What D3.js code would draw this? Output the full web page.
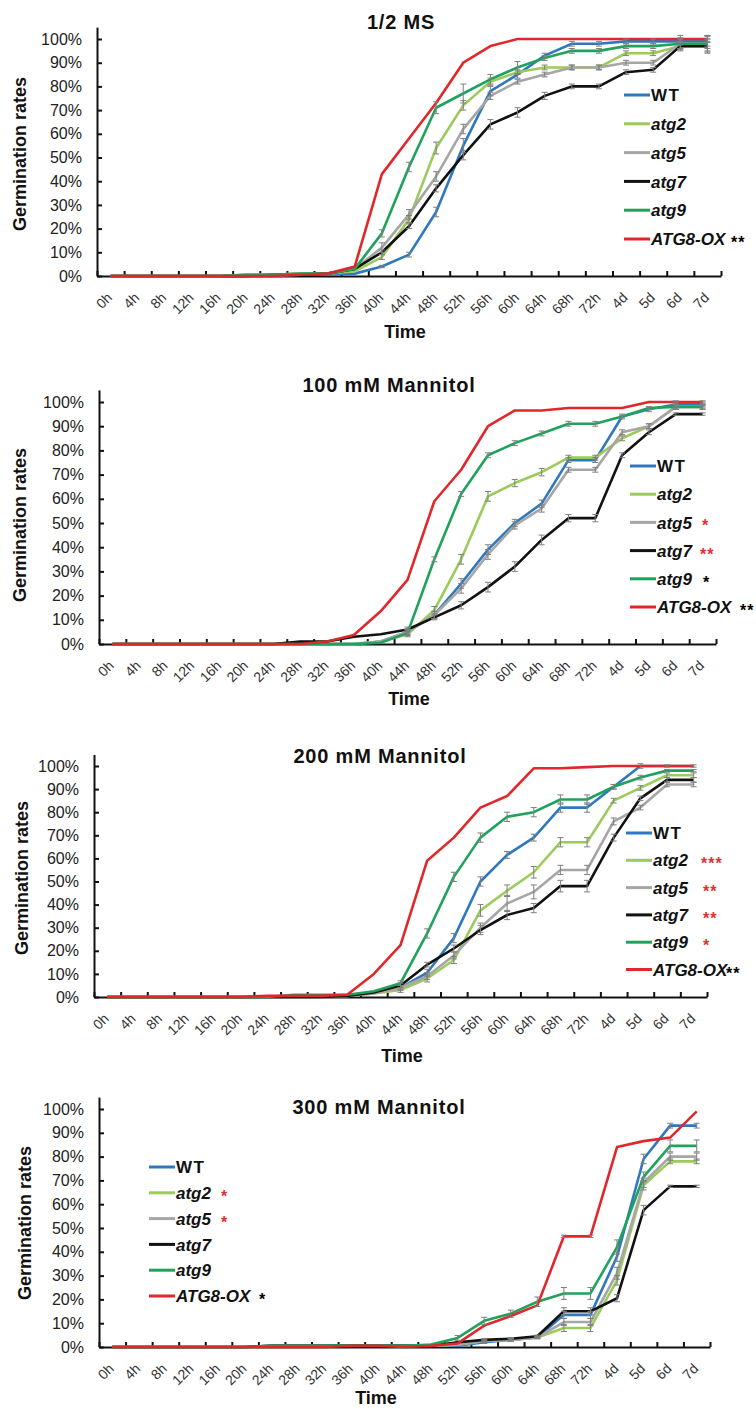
<!DOCTYPE html>
<html>
<head>
<meta charset="utf-8">
<script src="https://cdn.jsdelivr.net/npm/d3@7"></script>
<style>
  body { margin:0; background:#fff; }
  svg { font-family: "Liberation Sans", Arial, sans-serif; }
  .title { font-weight:bold; font-size:20px; letter-spacing:0.8px; fill:#111; }
  .axlabel { font-weight:bold; font-size:18px; fill:#111; }
  .yax text { font-size:16px; fill:#222; }
  .xax text { font-size:14px; fill:#333; }
  .leg { font-weight:bold; font-size:17px; fill:#111; }
</style>
</head>
<body>
<script>
var cats = ["0h","4h","8h","12h","16h","20h","24h","28h","32h","36h","40h","44h","48h","52h","56h","60h","64h","68h","72h","4d","5d","6d","7d"];
var seriesNames = ["WT","atg2","atg5","atg7","atg9","ATG8-OX"];
var seriesColors = ["#2f78bd","#9bcb5b","#a6a6a6","#111111","#1fa35c","#e2272b"];

//1/2 MS
var ms_WT   = [0,0,0,0,0,0,0,0.5,0.5,1,4,9,27,55,78,85,93,98,98,99,99,99,99];
var ms_atg2 = [0,0,0,0,0,0.5,0.5,1,1,2,8,24,54,72,82,86,88,88,88,94,94,97,97];
var ms_atg5 = [0,0,0,0,0,0.5,0.5,1,1,3,12,26,42,62,76,82,85,88,88,90,90,98,98];
var ms_atg7 = [0,0,0,0,0,0,0.5,0.5,1,3,10,21,37,51,64,69,76,80,80,86,87,97,97];
var ms_atg9 = [0,0,0,0,0,0.5,0.5,1,1,3,18,46,71,77,83,88,92,95,95,97,97,98,98];
var ms_OX   = [0,0,0,0,0,0,0,0.5,1,4,43,58,73,90,97,100,100,100,100,100,100,100,100];
var ms_WT_err   = [0,0,0,0,0,0,0,0,0,0,0.5,1,2,3,2,1.5,1,1,1,1,1,1.5,2];
var ms_atg2_err = [0,0,0,0,0,0,0,0,0,0,1,1.5,2.5,2,1.5,1,1,1,1,1,1,1.5,3];
var ms_atg5_err = [0,0,0,0,0,0,0,0,0,0,2,2,2,2,1.5,1,1,1,1,1,1,2,3.5];
var ms_atg7_err = [0,0,0,0,0,0,0,0,0,0,1,1,1.5,2,2,2,1.5,1,1,1,1,2,2];
var ms_atg9_err = [0,0,0,0,0,0,0,0,0,0,1.5,2,2.5,4,2,2.5,1,1,1,1,1,2,2];
var ms_OX_err   = [0,0,0,0,0,0,0,0,0,0,0,0,0,0,0,0,0,0,0,0,0,1.5,1.5];
var ms_stars = ["","","","","","**"];

//100 mM Mannitol
var m100_WT   = [0,0,0,0,0,0,0,0,0,0,1,5,12,25,39,50,58,76,76,94,97,99,99];
var m100_atg2 = [0,0,0,0,0,0,0,0,0,0,1,4,14,35,61,66.5,71,77,77,85,90,98,98];
var m100_atg5 = [0,0,0,0,0,0,0,0,0,0,1,5,12,23,37,49,56,72,72,87.5,90,98,98];
var m100_atg7 = [0,0,0,0,0,0,0,1,1,3,4,6,11,16,23.5,32,43,52,52,78,87.5,95,95];
var m100_atg9 = [0,0,0,0,0,0,0,0,0,0,0.5,4.5,35,62,78,83,87,91,91,94,97.5,98,98];
var m100_OX   = [0,0,0,0,0,0,0,0,1,3.7,13.5,26.5,59,72,90,96.5,96.5,97.5,97.5,97.5,100,100,100];
var m100_WT_err   = [0,0,0,0,0,0,0,0,0,0,0,1,1.5,2,2,1.5,1.5,1,1,1,1,1,1];
var m100_atg2_err = [0,0,0,0,0,0,0,0,0,0,0,1,1.5,2,2,1.5,1.5,1,1,1,1,1,1];
var m100_atg5_err = [0,0,0,0,0,0,0,0,0,0,0,1,1.5,2,2,1.5,1.5,1,1,1,1,1,1];
var m100_atg7_err = [0,0,0,0,0,0,0,0,0,0,0,1,1,1.5,2,2,2,1.5,1.5,1,1,0.5,0.5];
var m100_atg9_err = [0,0,0,0,0,0,0,0,0,0,0,1,1,1,1,1,1,1,1,0.5,0.5,0.5,0.5];
var m100_OX_err   = [0,0,0,0,0,0,0,0,0,0,0,0,0,0,0,0,0,0,0,0,0,0.5,0.5];
var m100_stars = ["","","*","**","*","**"];

//200 mM Mannitol
var m200_WT   = [0,0,0,0,0,0,0,0,0,0.5,2,4,10.5,25.5,50,61.5,69,82,82,91,100,100,100];
var m200_atg2 = [0,0,0,0,0,0,0,0,0,0.5,1.5,3,8,16,37.5,46,54,67,67,85,90.5,96,96];
var m200_atg5 = [0,0,0,0,0,0,0,0,0,0.5,1.5,4,9,18,30,40.5,45.5,55,55,76,82,92,92];
var m200_atg7 = [0,0,0,0,0,0,0,0,0,0.5,2,5,14,21,29,35.5,38.5,48,48,69,86,94,94];
var m200_atg9 = [0,0,0,0,0,0,0,1,1,1,2.5,6,27.5,52,69,78,80,85.5,85.5,91,95,98,98];
var m200_OX   = [0,0,0,0,0,0,0.5,0.5,0.5,1,10,22.5,59,69,82,87,99,99,99.5,100,100,100,100];
var m200_WT_err   = [0,0,0,0,0,0,0,0,0,0,0,1,1.5,2,2,1.5,1.5,2,2,1,1,0.5,0.5];
var m200_atg2_err = [0,0,0,0,0,0,0,0,0,0,0,1,1.5,1.5,2.5,2.5,2.5,2,2,1,1,1,1];
var m200_atg5_err = [0,0,0,0,0,0,0,0,0,0,0,1,1.5,1.5,2,3.5,3,2,2,1.5,1,1,1];
var m200_atg7_err = [0,0,0,0,0,0,0,0,0,0,0,1,1,1.5,2,2,2,2.5,2.5,1.5,1,1,1];
var m200_atg9_err = [0,0,0,0,0,0,0,0,0,0,0,1,2,2,2,2,2,2,2,1,1,0.5,0.5];
var m200_OX_err   = [0,0,0,0,0,0,0,0,0,0,0,0,0,0,0,0,0,0,0,0,0,0,0];
var m200_stars = ["","***","**","**","*","**"];

//300 mM Mannitol
var m300_WT   = [0,0,0,0,0,0,0.5,0.5,0.5,0.5,0.5,0.5,0.5,0.5,2,3,4,13.5,13.5,38,79,93,93];
var m300_atg2 = [0,0,0,0,0,0,0.5,0.5,0.5,0.5,0.5,0.5,0.5,1,2.5,3,4,8,8,28,68,78,78];
var m300_atg5 = [0,0,0,0,0,0,0.5,0.5,0.5,0.5,0.5,0.5,0.5,1,2.5,3,4,10.5,10.5,31,69,80,80];
var m300_atg7 = [0,0,0,0,0,0,0.5,0.5,0.5,0.5,0.5,0.5,0.5,2,3,3.5,4.5,15,15,20.5,57.5,67.5,67.5];
var m300_atg9 = [0,0,0,0,0,0,0.5,0.5,0.5,0.5,0.5,0.5,1,3.8,11,14,19,22.5,22.5,42,71.5,84.5,84.5];
var m300_OX   = [0,0,0,0,0,0,0,0,0,0.5,0.5,0,0.5,1.5,9,13,17.5,46.5,46.5,84,86.5,88,99];
var m300_WT_err   = [0,0,0,0,0,0,0,0,0,0,0,0,0,0,0.5,0.5,0.5,1.5,1.5,2,2,1,1];
var m300_atg2_err = [0,0,0,0,0,0,0,0,0,0,0,0,0,0,0.5,0.5,0.5,1.5,1.5,2,2,1,1];
var m300_atg5_err = [0,0,0,0,0,0,0,0,0,0,0,0,0,0,0.5,0.5,0.5,1.5,1.5,2.5,2,1.5,1.5];
var m300_atg7_err = [0,0,0,0,0,0,0,0,0,0,0,0,0,0,0.5,0.5,0.5,1.5,1.5,1.5,2,0.5,0.5];
var m300_atg9_err = [0,0,0,0,0,0,0,0,0,0,0,0,0,1,1.5,1.5,2,2.5,2.5,3,2,2.5,2.5];
var m300_OX_err   = [0,0,0,0,0,0,0,0,0,0,0,0,0,0,0,0,0,0.5,0.5,0,0,0,0];
var m300_stars = ["","*","*","","","*"];

var svg = d3.select("body").append("svg")
    .attr("width",756)
    .attr("height",1409);

var panels = [
  {title:"1/2 MS", titleX:401, titleY:29, left:97, right:721, y0:276, y100:39,
   ylabX:20, ylabY:154, timeX:405, timeY:338,
   series:[ms_WT,ms_atg2,ms_atg5,ms_atg7,ms_atg9,ms_OX],
   errs:[ms_WT_err,ms_atg2_err,ms_atg5_err,ms_atg7_err,ms_atg9_err,ms_OX_err],
   stars:ms_stars, starColors:["#000","#000","#000","#000","#000","#000"],
   legX:624, legY:95, legStep:28.8, starX:[0,0,0,0,0,731]},
  {title:"100 mM Mannitol", titleX:389, titleY:392, left:99, right:716, y0:644, y100:402,
   ylabX:20, ylabY:525, timeX:409, timeY:705,
   series:[m100_WT,m100_atg2,m100_atg5,m100_atg7,m100_atg9,m100_OX],
   errs:[m100_WT_err,m100_atg2_err,m100_atg5_err,m100_atg7_err,m100_atg9_err,m100_OX_err],
   stars:m100_stars, starColors:["#000","#000","#e0302f","#e0302f","#000","#000"],
   legX:630, legY:466, legStep:28.2, starX:[0,0,702,700,703,740]},
  {title:"200 mM Mannitol", titleX:380, titleY:763, left:94, right:707, y0:997, y100:766,
   ylabX:22, ylabY:878, timeX:402, timeY:1062,
   series:[m200_WT,m200_atg2,m200_atg5,m200_atg7,m200_atg9,m200_OX],
   errs:[m200_WT_err,m200_atg2_err,m200_atg5_err,m200_atg7_err,m200_atg9_err,m200_OX_err],
   stars:m200_stars, starColors:["#000","#e0302f","#e0302f","#e0302f","#e0302f","#000"],
   legX:626, legY:833, legStep:27.3, starX:[0,701,703,703,703,726]},
  {title:"300 mM Mannitol", titleX:379, titleY:1114, left:99, right:710, y0:1347, y100:1109,
   ylabX:25, ylabY:1223, timeX:376, timeY:1404,
   series:[m300_WT,m300_atg2,m300_atg5,m300_atg7,m300_atg9,m300_OX],
   errs:[m300_WT_err,m300_atg2_err,m300_atg5_err,m300_atg7_err,m300_atg9_err,m300_OX_err],
   stars:m300_stars, starColors:["#000","#e0302f","#e0302f","#000","#000","#000"],
   legX:149, legY:1167, legStep:25.8, starX:[0,221,221,0,0,259]}
];

panels.forEach(function(p){ drawPanel(p); });

function drawPanel(p) {
    var g = svg.append("g");
    var top = p.y0 - 1.05*(p.y0 - p.y100);

    var x = d3.scaleBand().domain(cats).range([p.left,p.right]);
    var xTicks = d3.scaleLinear().domain([0,cats.length]).range([p.left,p.right]);
    var y = d3.scaleLinear().domain([0,105]).range([p.y0,top]);
    var cx = function(i){ return x(cats[i]) + x.bandwidth()/2; };

    //title and axis labels
    g.append("text").attr("class","title")
        .attr("x",p.titleX).attr("y",p.titleY)
        .attr("text-anchor","middle")
        .text(p.title);
    g.append("text").attr("class","axlabel")
        .attr("transform","translate("+(p.ylabX+6)+","+p.ylabY+") rotate(-90)")
        .attr("text-anchor","middle")
        .text("Germination rates");
    g.append("text").attr("class","axlabel")
        .attr("x",p.timeX).attr("y",p.timeY)
        .attr("text-anchor","middle")
        .text("Time");

    //y axis
    var yaxis = g.append("g").attr("class","yax")
        .attr("transform","translate("+p.left+",0)")
        .call(d3.axisLeft(y).tickValues(d3.range(0,101,10))
            .tickFormat(function(d){return d+"%";})
            .tickSizeInner(-5).tickSizeOuter(0).tickPadding(15));

    //x axis: tick marks between categories, labels at centres
    var xaxis = g.append("g").attr("class","xax")
        .attr("transform","translate(0,"+p.y0+")")
        .call(d3.axisBottom(xTicks).tickValues(d3.range(0,cats.length+1))
            .tickFormat("").tickSizeInner(-5).tickSizeOuter(0));
    var xlabels = g.append("g").attr("class","xax")
        .attr("transform","translate(0,"+p.y0+")")
        .call(d3.axisBottom(x).tickSize(0));
    xlabels.select(".domain").remove();
    xlabels.selectAll("text")
        .attr("y",0).attr("dy","0.35em")
        .attr("text-anchor","end")
        .attr("transform","translate(-1,19) rotate(-45)");

    g.selectAll(".domain, .tick line").attr("stroke","#111").attr("stroke-width",2);

    //lines
    var line = d3.line()
        .x(function(d,i){return cx(i);})
        .y(function(d){return y(d);});
    p.series.forEach(function(s,k){
        g.append("path")
            .datum(s)
            .attr("fill","none")
            .attr("stroke",seriesColors[k])
            .attr("stroke-width",2.6)
            .attr("stroke-linejoin","round")
            .attr("d",line);
    });

    //error bars
    p.series.forEach(function(s,k){
        var e = p.errs[k];
        s.forEach(function(v,i){
            if (!e[i]) return;
            var eg = g.append("g").attr("stroke","#7f7f7f").attr("stroke-width",1);
            eg.append("line").attr("x1",cx(i)).attr("x2",cx(i))
                .attr("y1",y(Math.max(v-e[i],0))).attr("y2",y(v+e[i]));
            eg.append("line").attr("x1",cx(i)-3).attr("x2",cx(i)+3)
                .attr("y1",y(v+e[i])).attr("y2",y(v+e[i]));
            eg.append("line").attr("x1",cx(i)-3).attr("x2",cx(i)+3)
                .attr("y1",y(Math.max(v-e[i],0))).attr("y2",y(Math.max(v-e[i],0)));
        });
    });

    //legend
    seriesNames.forEach(function(name,k){
        var ly = p.legY + k*p.legStep;
        g.append("line")
            .attr("x1",p.legX).attr("x2",p.legX+26)
            .attr("y1",ly).attr("y2",ly)
            .attr("stroke",seriesColors[k]).attr("stroke-width",3);
        g.append("text").attr("class","leg")
            .attr("x",p.legX+27).attr("y",ly).attr("dy","0.36em")
            .style("font-style",name=="WT"?"normal":"italic")
            .style("letter-spacing",name=="WT"?"1.5px":"0px")
            .text(name);
        if (p.stars[k]!="") {
            g.append("text")
                .attr("x",p.starX[k]).attr("y",ly+9)
                .style("font-size","16px").style("font-weight","bold")
                .style("letter-spacing","1px")
                .attr("fill",p.starColors[k])
                .text(p.stars[k]);
        }
    });
}
</script>
</body>
</html>
